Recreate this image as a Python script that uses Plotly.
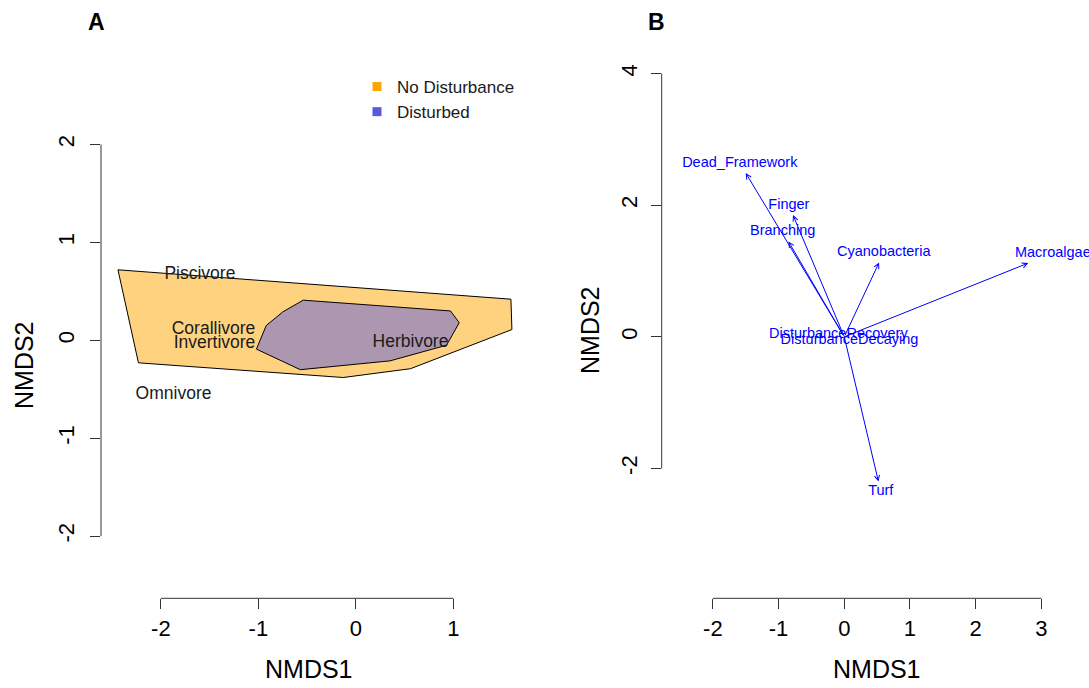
import math
import plotly.graph_objects as go

# ---- Panel A: NMDS of fish guilds, convex hulls per disturbance group ----
hull_nodist_x = [-2.44, 1.59, 1.60, 0.56, -0.13, -2.23]
hull_nodist_y = [0.72, 0.42, 0.11, -0.29, -0.38, -0.23]
hull_dist_x = [-0.54, 0.97, 1.06, 0.93, 0.35, -0.57, -1.02, -0.92, -0.75]
hull_dist_y = [0.41, 0.30, 0.18, -0.05, -0.21, -0.30, -0.09, 0.15, 0.29]

guilds = ["Piscivore", "Corallivore", "Invertivore", "Herbivore", "Omnivore"]
guild_x = [-1.60, -1.46, -1.45, 0.56, -1.87]
guild_y = [0.67, 0.11, -0.03, -0.02, -0.55]

groups = ["No Disturbance", "Disturbed"]

# ---- Panel B: envfit vectors and factor centroids ----
env_vars = ["Dead_Framework", "Finger", "Branching", "Cyanobacteria", "Macroalgae", "Turf"]
env_x = [-1.50, -0.78, -0.85, 0.53, 2.80, 0.52]
env_y = [2.49, 1.85, 1.45, 1.13, 1.12, -2.20]

factor_levels = ["DisturbanceRecovery", "DisturbanceDecaying"]
factor_x = [-0.09, 0.08]
factor_y = [0.03, -0.06]

# ---- axis ticks ----
ticks_a_x = [-2, -1, 0, 1]
ticks_a_y = [-2, -1, 0, 1, 2]
ticks_b_x = [-2, -1, 0, 1, 2, 3]
ticks_b_y = [-2, 0, 2, 4]

FONT = "Liberation Sans, Arial, Helvetica, sans-serif"
ORANGE = "rgb(255,165,0)"
SLATE = "rgb(90,90,225)"
BLUE = "rgb(0,0,255)"
W, H = 1089, 688

fig = go.Figure()

# hulls
fig.add_trace(go.Scatter(
    x=hull_nodist_x + hull_nodist_x[:1], y=hull_nodist_y + hull_nodist_y[:1],
    mode="lines", fill="toself", fillcolor="rgba(255,165,0,0.5)",
    line=dict(color="black", width=1), hoverinfo="skip", showlegend=False,
    xaxis="x", yaxis="y"))
fig.add_trace(go.Scatter(
    x=hull_dist_x + hull_dist_x[:1], y=hull_dist_y + hull_dist_y[:1],
    mode="lines", fill="toself", fillcolor="rgba(90,90,225,0.5)",
    line=dict(color="black", width=1), hoverinfo="skip", showlegend=False,
    xaxis="x", yaxis="y"))

# guild names
fig.add_trace(go.Scatter(
    x=guild_x, y=guild_y, mode="text", text=guilds, textposition="middle center",
    textfont=dict(family=FONT, size=17.5, color="#1a1a1a"),
    showlegend=False, cliponaxis=False, xaxis="x", yaxis="y"))

# legend entries
for name, col in zip(groups, [ORANGE, SLATE]):
    fig.add_trace(go.Scatter(
        x=[None], y=[None], mode="markers", name=name,
        marker=dict(symbol="square", size=9, color=col, line=dict(width=0)),
        xaxis="x", yaxis="y"))

# envfit arrows
for vx, vy in zip(env_x, env_y):
    fig.add_annotation(
        x=vx, y=vy, ax=0, ay=0, xref="x2", yref="y2", axref="x2", ayref="y2",
        text="", showarrow=True, arrowhead=5, arrowsize=1, arrowwidth=1,
        arrowcolor=BLUE, standoff=0, startstandoff=0)

# vector labels: centre pushed just beyond each arrow tip
HALF_H = 0.15
CHAR_W = 0.0625


def label_xy(vx, vy, text):
    r = math.hypot(vx, vy)
    c, s = vx / r, vy / r
    half_w = CHAR_W * len(text)
    d = min(half_w / max(abs(c), 1e-9), HALF_H / max(abs(s), 1e-9))
    return vx + c * d, vy + s * d


lab = [label_xy(a, b, t) for a, b, t in zip(env_x, env_y, env_vars)]
fig.add_trace(go.Scatter(
    x=[p[0] for p in lab], y=[p[1] for p in lab], mode="text", text=env_vars,
    textposition="middle center", textfont=dict(family=FONT, size=14.5, color=BLUE),
    showlegend=False, cliponaxis=False, xaxis="x2", yaxis="y2"))

fig.add_trace(go.Scatter(
    x=factor_x, y=factor_y, mode="text", text=factor_levels,
    textposition="middle center", textfont=dict(family=FONT, size=14.5, color=BLUE),
    showlegend=False, cliponaxis=False, xaxis="x2", yaxis="y2"))

axis_common = dict(
    showgrid=False, zeroline=False, showline=False, ticks="outside",
    ticklen=10, tickwidth=1, tickcolor="#333", tickmode="array",
    tickfont=dict(family=FONT, size=22, color="black"), fixedrange=True)


def tick_text(vals):
    # plain hyphen-minus, as in base R graphics
    return [str(v) for v in vals]


fig.update_layout(
    width=W, height=H, margin=dict(l=0, r=0, t=0, b=0),
    paper_bgcolor="white", plot_bgcolor="white",
    font=dict(family=FONT, color="black"),
    xaxis=dict(domain=[101 / W, 520 / W], range=[-2.614, 1.683],
               tickvals=ticks_a_x, ticktext=tick_text(ticks_a_x), anchor="y", **axis_common),
    yaxis=dict(domain=[1 - 598.3 / H, 1 - 130 / H], range=[-2.635, 2.148],
               tickvals=ticks_a_y, ticktext=tick_text(ticks_a_y), anchor="x",
               tickangle=-90, ticklabelstandoff=7, **axis_common),
    xaxis2=dict(domain=[661.7 / W, 1.0], range=[-2.779, 3.725],
                tickvals=ticks_b_x, ticktext=tick_text(ticks_b_x), anchor="y2", **axis_common),
    yaxis2=dict(domain=[1 - 598.3 / H, 1 - 60 / H], range=[-3.974, 4.207],
                tickvals=ticks_b_y, ticktext=tick_text(ticks_b_y), anchor="x2",
                tickangle=-90, ticklabelstandoff=5, **axis_common),
    legend=dict(x=357 / W, y=1 - 69 / H, xanchor="left", yanchor="top",
                bgcolor="rgba(0,0,0,0)", borderwidth=0,
                font=dict(family=FONT, size=17, color="#1a1a1a"),
                tracegroupgap=0, itemclick=False, itemdoubleclick=False),
    showlegend=True,
)

# R-style axis lines spanning only the tick range
for xa, ya, tx, ty in [("x", "y", ticks_a_x, ticks_a_y), ("x2", "y2", ticks_b_x, ticks_b_y)]:
    fig.add_shape(type="line", xref=xa, yref=ya + " domain",
                  x0=min(tx), x1=max(tx), y0=0, y1=0, line=dict(color="#333", width=1))
    fig.add_shape(type="line", xref=xa + " domain", yref=ya,
                  x0=0, x1=0, y0=min(ty), y1=max(ty), line=dict(color="#333", width=1))

# axis titles and panel letters
title_font = dict(family=FONT, size=25, color="black")
for txt, px, py, ang in [("NMDS1", 309, 669, 0), ("NMDS1", 877, 669, 0),
                         ("NMDS2", 24, 365, -90), ("NMDS2", 590, 330, -90)]:
    fig.add_annotation(text=txt, x=px / W, y=1 - py / H, xref="paper", yref="paper",
                       xanchor="center", yanchor="middle", showarrow=False,
                       textangle=ang, font=title_font)
for txt, px in [("<b>A</b>", 97), ("<b>B</b>", 656)]:
    fig.add_annotation(text=txt, x=px / W, y=1 - 22 / H, xref="paper", yref="paper",
                       xanchor="center", yanchor="middle", showarrow=False,
                       font=dict(family=FONT, size=23, color="black"))

fig.write_html("out.html")
